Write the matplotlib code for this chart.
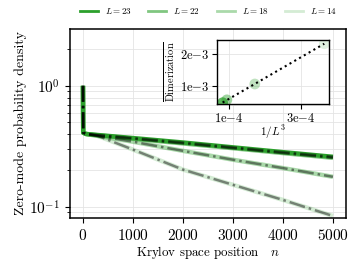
import numpy as np
import matplotlib
matplotlib.use("Agg")
import matplotlib.pyplot as plt
from matplotlib.lines import Line2D

plt.rcParams["font.family"] = ["cmr10", "DejaVu Serif"]
plt.rcParams["mathtext.fontset"] = "cm"
plt.rcParams["axes.formatter.use_mathtext"] = True

# Krylov position and zero-mode density per system size
n_pos = [0, 5, 60, 300, 1000, 2000, 3000, 4000, 5000]
sizes = [23, 22, 18, 14]
density = {
    23: [1.0, 0.41, 0.40, 0.392, 0.370, 0.340, 0.310, 0.283, 0.259],
    22: [1.0, 0.41, 0.40, 0.390, 0.365, 0.334, 0.305, 0.278, 0.254],
    18: [1.0, 0.41, 0.40, 0.385, 0.345, 0.290, 0.245, 0.209, 0.177],
    14: [1.0, 0.41, 0.40, 0.385, 0.297, 0.203, 0.152, 0.114, 0.084],
}
alphas = {23: 1.0, 22: 0.6, 18: 0.4, 14: 0.2}

# inset: dimerization vs 1/L^3
dimer = [0.47e-3, 0.56e-3, 1.06e-3, 2.33e-3]
inv_L3 = [1.0 / L**3 for L in sizes]

green = "#2ca02c"

fig = plt.figure(figsize=(3.57, 2.68), dpi=100)
ax = fig.add_axes([0.196, 0.187, 0.773, 0.705])

for L in sizes:
    ax.plot(n_pos, density[L], color=green, alpha=alphas[L], lw=3.2,
            solid_capstyle="butt")
for L in sizes:
    ax.plot(n_pos, density[L], color="k", alpha=0.45, lw=1.8, ls="-.")

ax.set_yscale("log")
ax.set_ylim(0.081, 2.95)
ax.set_xlim(-260, 5260)
ax.set_xticks([0, 1000, 2000, 3000, 4000, 5000])
ax.grid(True, which="both", color="#e4e4e4", lw=0.6)
ax.set_axisbelow(True)
ax.tick_params(labelsize=11)
ax.set_xlabel(r"Krylov space position   $n$", fontsize=9.3, labelpad=1)
ax.set_ylabel("Zero-mode probability density", fontsize=10, labelpad=2)
for s in ax.spines.values():
    s.set_linewidth(1.1)

handles = [Line2D([], [], color=green, alpha=alphas[L], lw=2)
           for L in sizes]
fig.legend(handles, [rf"$L={L}$" for L in sizes], loc="center",
           bbox_to_anchor=(0.584, 0.958), ncol=4, frameon=False,
           fontsize=6.5, handlelength=2.0, columnspacing=1.8)

ins = fig.add_axes([0.608, 0.612, 0.314, 0.239])
for x, y, L in zip(inv_L3, dimer, sizes):
    ins.scatter(x, y, s=60, color=green, alpha=alphas[L] * 0.75,
                edgecolors="none", zorder=2)
fit = np.polyfit(inv_L3, dimer, 1)
xs = np.linspace(min(inv_L3), max(inv_L3), 50)
ins.plot(xs, np.polyval(fit, xs), color="k", ls=":", lw=1.5, zorder=3)
ins.set_xlim(0.667e-4, 3.78e-4)
ins.set_ylim(0.43e-3, 2.45e-3)
ins.set_xticks([1e-4, 3e-4])
ins.set_xticklabels([r"1e$-$4", r"3e$-$4"])
ins.set_yticks([1e-3, 2e-3])
ins.set_yticklabels([r"1e$-$3", r"2e$-$3"])
ins.tick_params(labelsize=9, pad=2)
ins.grid(True, color="#e4e4e4", lw=0.6)
ins.set_xlabel(r"$1/L^3$", fontsize=8, labelpad=-1)
ins.set_ylabel(r"$\overline{\mathrm{Dimerization}}$", fontsize=7.5,
               labelpad=2)
for s in ins.spines.values():
    s.set_linewidth(1.0)

fig.savefig("out.png", dpi=100)
